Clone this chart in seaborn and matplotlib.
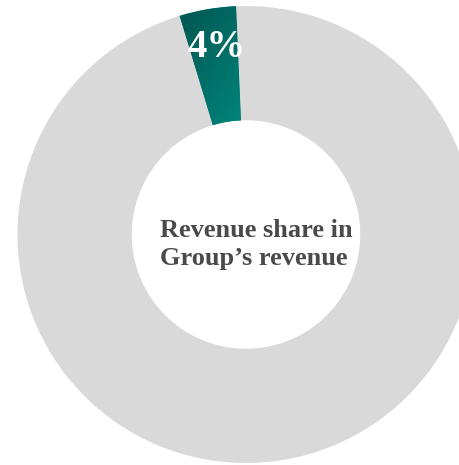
import numpy as np
import matplotlib
matplotlib.use("Agg")
import matplotlib.pyplot as plt
from matplotlib.colors import LinearSegmentedColormap
import seaborn as sns

# Revenue split: segment share vs. rest of the group
labels = ["Segment", "Rest of Group"]
shares = [4, 96]
share_label = "4%"
center_text = "Revenue share in\nGroup\u2019s revenue"

sns.set_theme(style="white")
plt.rcParams["font.family"] = ["Liberation Serif", "DejaVu Serif"]

rest_color = "#d9d9d9"
teal_dark = "#00514c"
teal_light = "#008b81"

fig = plt.figure(figsize=(4.6, 4.65), dpi=100)
ax = fig.add_axes([0, 0, 1, 1])

wedges, _ = ax.pie(
    shares,
    colors=[teal_light, rest_color],
    startangle=92.5,
    counterclock=True,
    radius=1.0,
    wedgeprops=dict(width=0.5, edgecolor="none", linewidth=0),
)

# Diagonal teal gradient (dark top-left to light bottom-right) inside the wedge
seg = wedges[0]
cmap = LinearSegmentedColormap.from_list("teal", [teal_dark, teal_light])
gx, gy = np.meshgrid(np.linspace(0, 1, 200), np.linspace(0, 1, 200))
ramp = (gx + gy) / 2
img = ax.imshow(
    ramp, cmap=cmap, extent=(-0.35, 0.05, 0.45, 1.02),
    origin="upper", aspect="auto", zorder=seg.get_zorder() + 0.1,
    interpolation="bilinear",
)
img.set_clip_path(seg)

# Slice label
ax.text(-0.127, 0.82, share_label, color="white",
        fontsize=28, fontweight="bold", ha="center", va="center", zorder=5)

ax.text(-0.376, -0.133, center_text, color="#4a4a4a", fontsize=19,
        fontweight="bold", ha="left", va="baseline", linespacing=1.25, zorder=5)

ax.set_xlim(-1.0766, 0.9365)
ax.set_ylim(-1.0088, 1.0263)
ax.set_aspect("auto")
ax.axis("off")

fig.savefig("out.png", dpi=100, facecolor="white")
